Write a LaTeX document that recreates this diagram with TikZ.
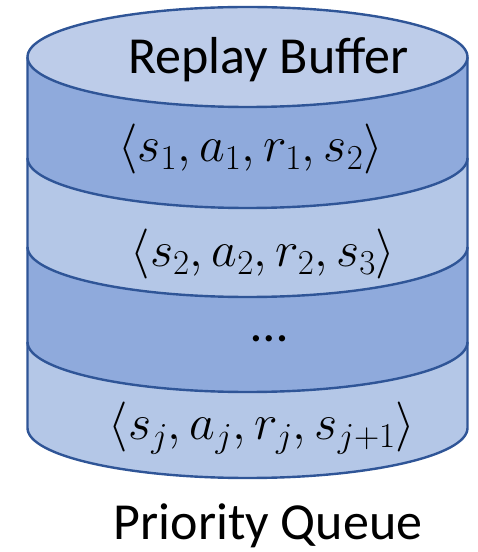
\RequirePackage{fix-cm}
\documentclass[tikz,border=0pt]{standalone}
\usepackage{fontspec}
\setmainfont{Carlito}
\definecolor{topfill}{HTML}{BDCCE9}
\definecolor{lightfill}{HTML}{B4C7E7}
\definecolor{darkfill}{HTML}{8FAADC}
\definecolor{edgeblue}{HTML}{2F5597}
\begin{document}
\begin{tikzpicture}[x=1pt,y=1pt,
  edgeline/.style={draw=edgeblue, line width=2.4pt, line join=round},
  bigtext/.style={anchor=base, font=\fontsize{52}{60}\selectfont, inner sep=0pt},
  mathtext/.style={anchor=base, font=\fontsize{50}{58}\selectfont, inner sep=0pt}]
\useasboundingbox (0,0) rectangle (477,552);
% band fills (bottom to top)
\foreach \a/\b/\c in {210/124/lightfill, 305/210/darkfill, 394/305/lightfill, 495/394/darkfill} {
  \fill[\c] (27.5,\a) -- (27.5,\b) arc[start angle=180, end angle=360, x radius=220, y radius=50] -- (467.5,\a) -- cycle;
}
% band outlines
\foreach \a/\b in {210/124, 305/210, 394/305, 495/394} {
  \draw[edgeline] (27.5,\a) -- (27.5,\b) arc[start angle=180, end angle=360, x radius=220, y radius=50] -- (467.5,\a);
}
% top ellipse
\filldraw[fill=topfill, edgeline] (247.5,495) ellipse[x radius=220, y radius=50];
% texts
\node[bigtext] (title) at (268.5,478.7) {Replay Buffer};
\node[mathtext] (t1) at (250.5,390.3) {$\langle s_1,a_1,r_1,s_2\rangle$};
\node[mathtext] (t2) at (263,285.3) {$\langle s_2,a_2,r_2,s_3\rangle$};
\node[bigtext] (dots) at (269,210) {…};
\node[mathtext] (t4) at (262,112) {$\big\langle s_j,a_j,r_j,s_{j+1}\big\rangle$};
\node[bigtext] (pq) at (268,12.5) {Priority Queue};
\end{tikzpicture}
\end{document}
